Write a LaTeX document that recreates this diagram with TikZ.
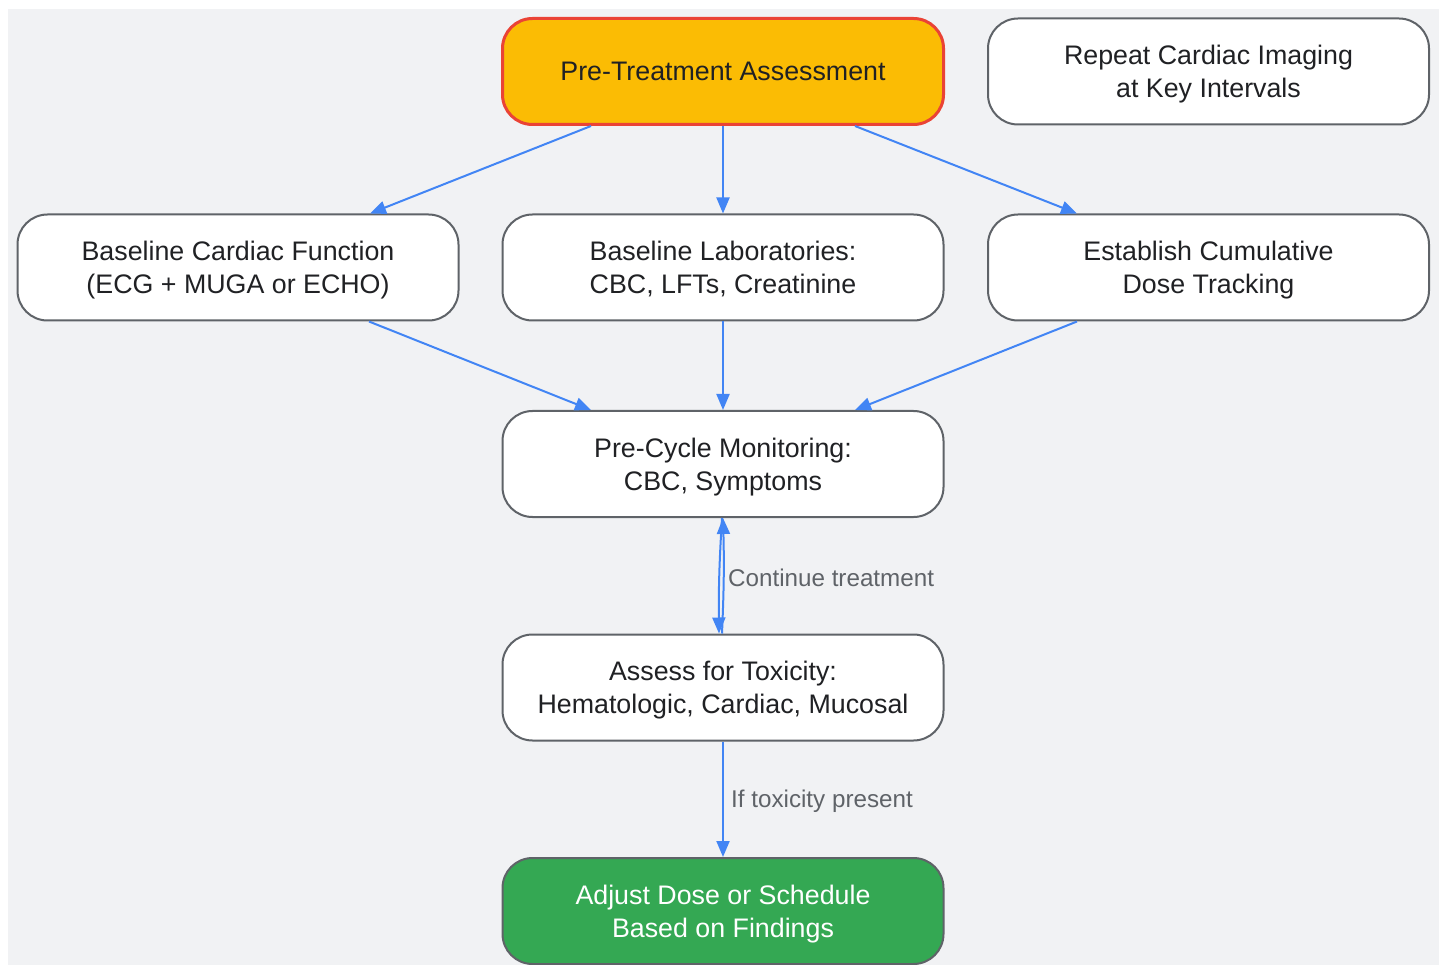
\documentclass[tikz,border=0pt]{standalone}
\usepackage{fontspec}
\setmainfont{Liberation Sans}
\usetikzlibrary{arrows.meta,calc}
\definecolor{bg}{HTML}{F1F2F4}
\definecolor{edge}{HTML}{5F6368}
\definecolor{txt}{HTML}{202124}
\definecolor{blu}{HTML}{4285F4}
\definecolor{amber}{HTML}{FBBC04}
\definecolor{redb}{HTML}{EA4335}
\definecolor{grn}{HTML}{34A853}
\definecolor{lbl}{HTML}{5F6368}
\tikzset{
  box/.style={draw=edge, line width=2pt, fill=white, rounded corners=30pt,
    minimum width=441pt, minimum height=106pt, align=center, text=txt,
    font=\fontsize{26.8}{33}\selectfont, inner sep=0pt, text depth=-1.5pt},
  arr/.style={draw=blu, line width=2pt, -{Triangle[length=16pt,width=13pt]}},
  lab/.style={text=lbl, font=\fontsize{24.2}{28}\selectfont, anchor=west, inner sep=0pt}
}
\begin{document}
\begin{tikzpicture}[x=1pt,y=-1pt]
\useasboundingbox (0,0) rectangle (1443,965);
\fill[bg] (8,9) rectangle (1439,965);
\node[box, fill=amber, draw=redb, line width=3pt] (pre) at (723,71.5) {Pre-Treatment Assessment};
\node[box] (rep) at (1208.5,71.5) {Repeat Cardiac Imaging\\at Key Intervals};
\node[box] (bcard) at (238,267.5) {Baseline Cardiac Function\\(ECG + MUGA or ECHO)};
\node[box] (blab) at (723,267.5) {Baseline Laboratories:\\CBC, LFTs, Creatinine};
\node[box] (est) at (1208.5,267.5) {Establish Cumulative\\Dose Tracking};
\node[box] (pcm) at (723,464) {Pre-Cycle Monitoring:\\CBC, Symptoms};
\node[box] (tox) at (723,687.5) {Assess for Toxicity:\\Hematologic, Cardiac, Mucosal};
\node[box, fill=grn, text=white] (adj) at (723,911) {Adjust Dose or Schedule\\Based on Findings};
\draw[arr] ([xshift=-132pt]pre.south) -- ([xshift=132pt]bcard.north);
\draw[arr] (pre.south) -- (blab.north);
\draw[arr] ([xshift=132pt]pre.south) -- ([xshift=-131.5pt]est.north);
\draw[arr] ([xshift=131pt]bcard.south) -- ([xshift=-132pt]pcm.north);
\draw[arr] (blab.south) -- (pcm.north);
\draw[arr] ([xshift=-131.5pt]est.south) -- ([xshift=132pt]pcm.north);
\draw[arr] ([xshift=-1pt]pcm.south) to[bend right=2] ([xshift=-4pt]tox.north);
\draw[arr] ([xshift=-1pt]tox.north) to[bend right=2] (pcm.south);
\node[lab] (l1) at (728,577.5) {Continue treatment};
\draw[arr] (tox.south) -- (adj.north);
\node[lab] (l2) at (731,801) {If toxicity present};
\end{tikzpicture}
\end{document}
